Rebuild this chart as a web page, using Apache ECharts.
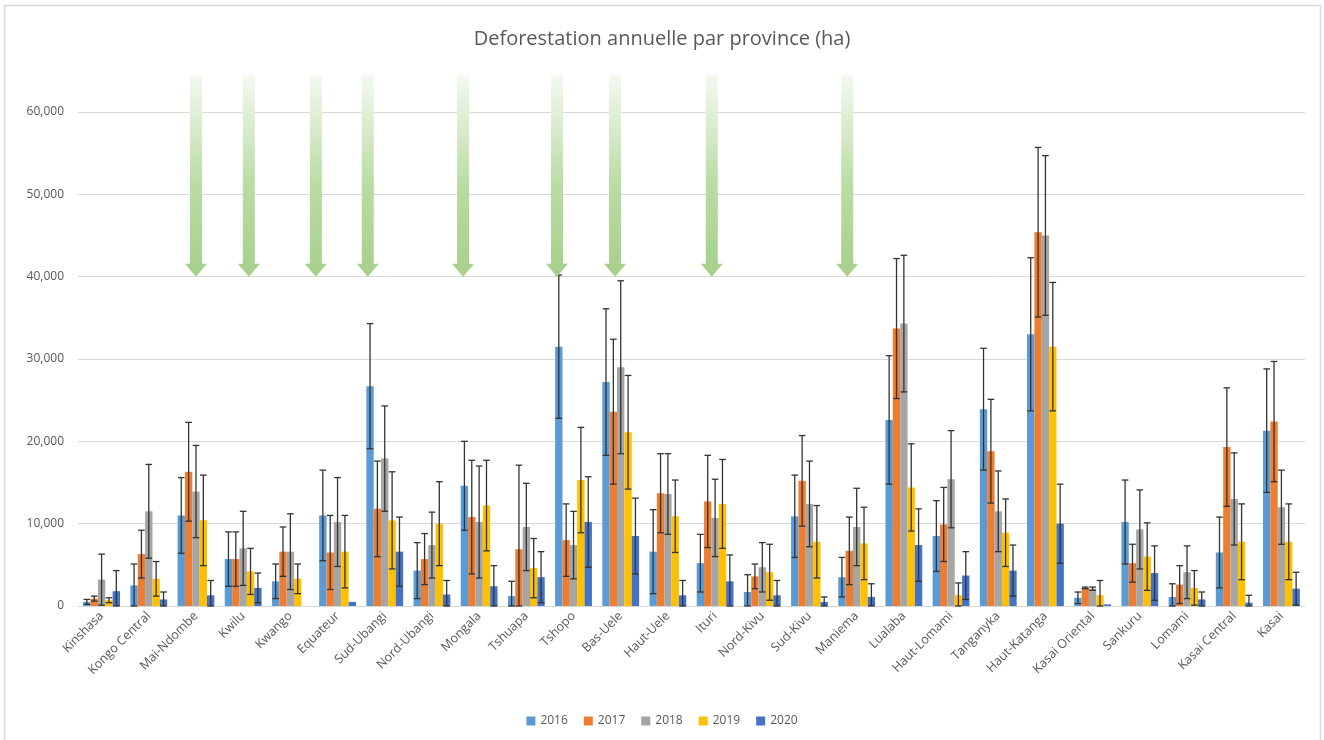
<!DOCTYPE html>
<html>
<head>
<meta charset="utf-8">
<script src="https://cdn.jsdelivr.net/npm/echarts@6/dist/echarts.min.js"></script>
<style>
html,body{margin:0;padding:0;background:#fff;}
#chart{width:1324px;height:740px;}
</style>
</head>
<body>
<div id="chart"></div>
<script>
const categories = ['Kinshasa','Kongo Central','Mai-Ndombe','Kwilu','Kwango','Equateur','Sud-Ubangi','Nord-Ubangi','Mongala','Tshuapa','Tshopo','Bas-Uele','Haut-Uele','Ituri','Nord-Kivu','Sud-Kivu','Maniema','Lualaba','Haut-Lomami','Tanganyka','Haut-Katanga','Kasai Oriental','Sankuru','Lomami','Kasai Central','Kasai'];
const years = ['2016','2017','2018','2019','2020'];

const v2016 = [500,2500,11000,5700,3000,11000,26700,4300,14600,1200,31500,27200,6600,5200,1700,10900,3500,22600,8500,23900,33000,1000,10200,1100,6500,21300];
const v2017 = [900,6300,16300,5700,6600,6500,11800,5700,10800,6900,8000,23600,13700,12700,3600,15200,6700,33700,9900,18800,45400,2200,5200,2600,19300,22400];
const v2018 = [3200,11500,13900,7000,6600,10200,17900,7400,10200,9600,7400,29000,13600,10700,4700,12400,9600,34300,15400,11500,45000,2100,9300,4100,13000,12000];
const v2019 = [700,3300,10400,4200,3300,6600,10400,10000,12200,4600,15300,21100,10900,12400,4100,7800,7600,14400,1300,8900,31500,1300,6000,2200,7800,7800];
const v2020 = [1800,800,1300,2200,0,500,6600,1400,2400,3500,10200,8500,1300,3000,1300,500,1100,7400,3700,4300,10000,200,4000,800,400,2100];

const e2016 = [300,2600,4600,3300,2100,5500,7600,3400,5400,1800,8700,8900,5100,3500,2100,5000,2400,7800,4300,7400,9300,700,5100,1600,4300,7500];
const e2017 = [300,2900,6000,3300,3000,4500,5800,3100,6900,10200,4400,8800,4800,5600,1500,5500,4100,8500,4500,6300,10300,100,2300,2300,7200,7300];
const e2018 = [3100,5700,5600,4500,4600,5400,6400,4000,6800,5300,4100,10500,4900,4700,3000,5200,4700,8300,5900,4900,9700,200,4800,3200,5600,4500];
const e2019 = [300,2100,5500,2800,1800,4400,5900,5100,5500,3600,6400,6900,4400,5400,3400,4400,4400,5300,1500,4100,7800,1800,4100,2100,4600,4600];
const e2020 = [2500,900,1800,1800,0,0,4200,1700,2500,3100,5500,4600,1800,3200,1800,600,1600,4400,2900,3100,4800,0,3300,900,900,2000];

const yTicks = [0,10000,20000,30000,40000,50000,60000];

// annotation arrows: province, horizontal offset within category (fraction of band)
const arrowProvinces = ['Mai-Ndombe','Kwilu','Equateur','Sud-Ubangi','Mongala','Tshopo','Bas-Uele','Ituri','Maniema'];
const arrowOffsets = [0,0.12,-0.46,-0.36,-0.34,-0.35,-0.12,-0.07,-0.2];
const arrowTop = 64500, arrowTip = 40000;

const colors = ['#5b9bd5','#ed7d31','#a5a5a5','#ffc000','#4472c4'];
const values = [v2016,v2017,v2018,v2019,v2020];
const errors = [e2016,e2017,e2018,e2019,e2020];
const CAT_GAP = 0.22;

const chart = echarts.init(document.getElementById('chart'));
const series = [];
years.forEach((y,k)=>{
  series.push({
    name:y, type:'bar', data:values[k], barGap:'0%', barCategoryGap:(CAT_GAP*100)+'%',
    itemStyle:{color:colors[k]}, z:2
  });
});
years.forEach((y,k)=>{
  series.push({
    type:'custom', name:'err'+y, z:3, silent:true,
    data: values[k].map((v,i)=>[i, v, errors[k][i]]),
    encode:{x:0,y:1},
    renderItem:function(params, api){
      const i = api.value(0), v = api.value(1), e = api.value(2);
      if (!e) return null;
      const band = api.size([1,0])[0];
      const group = band*(1-CAT_GAP);
      const bw = group/5;
      const cx = api.coord([i,0])[0] - group/2 + bw*(k+0.5);
      const yh = api.coord([i, v+e])[1];
      const yl = api.coord([i, Math.max(0, v-e)])[1];
      const hw = bw*0.45;
      const st = {stroke:'#333333', lineWidth:1.3};
      return {type:'group', children:[
        {type:'line', shape:{x1:cx,y1:yh,x2:cx,y2:yl}, style:st},
        {type:'line', shape:{x1:cx-hw,y1:yh,x2:cx+hw,y2:yh}, style:st},
        {type:'line', shape:{x1:cx-hw,y1:yl,x2:cx+hw,y2:yl}, style:st}
      ]};
    }
  });
});
series.push({
  type:'custom', name:'arrows', z:5, silent:true, clip:false,
  data: arrowProvinces.map((p,j)=>[categories.indexOf(p), arrowTop, arrowOffsets[j]]),
  encode:{x:0,y:1},
  renderItem:function(params, api){
    const i = api.value(0), off = api.value(2);
    const band = api.size([1,0])[0];
    const cx = api.coord([i,0])[0] + off*band;
    const yt = api.coord([i, arrowTop])[1];
    const yp = api.coord([i, arrowTip])[1];
    const sw = 6, hw = 11, hh = 13;
    const pts = [[cx-sw,yt],[cx+sw,yt],[cx+sw,yp-hh],[cx+hw,yp-hh],[cx,yp],[cx-hw,yp-hh],[cx-sw,yp-hh]];
    return {type:'polygon', shape:{points:pts}, style:{
      fill:new echarts.graphic.LinearGradient(0,0,0,1,[
        {offset:0,color:'#f4f9f1'},{offset:0.55,color:'#b9dca3'},{offset:1,color:'#a5d08a'}
      ])
    }};
  }
});

chart.setOption({
  animation:false,
  backgroundColor:'#fff',
  title:{text:'Deforestation annuelle par province (ha)', left:'center', top:24,
    textStyle:{fontFamily:'Open Sans', fontSize:20, fontWeight:'normal', color:'#595959'}},
  legend:{data:years, bottom:8, left:'center', itemWidth:9, itemHeight:9, itemGap:16, icon:'rect',
    textStyle:{fontFamily:'Open Sans', fontSize:12, color:'#595959'}},
  grid:{left:78, right:19, top:112, bottom:134},
  xAxis:{type:'category', data:categories,
    axisLine:{lineStyle:{color:'#d9d9d9'}}, axisTick:{show:false},
    axisLabel:{rotate:45, interval:0, fontFamily:'Open Sans', fontSize:12.5, color:'#595959', margin:8}},
  yAxis:{type:'value', min:yTicks[0], max:yTicks[yTicks.length-1], interval:10000,
    axisLine:{show:false}, axisTick:{show:false},
    splitLine:{lineStyle:{color:'#d9d9d9', width:1}},
    axisLabel:{fontFamily:'Open Sans', fontSize:12, color:'#595959', margin:14,
      formatter:v=>v.toLocaleString('en-US')}},
  graphic:[{type:'rect', shape:{x:4.5,y:5.5,width:1316,height:760}, style:{fill:null, stroke:'#d9d9d9', lineWidth:1.5}, silent:true}],
  series:series
});
</script>
</body>
</html>
